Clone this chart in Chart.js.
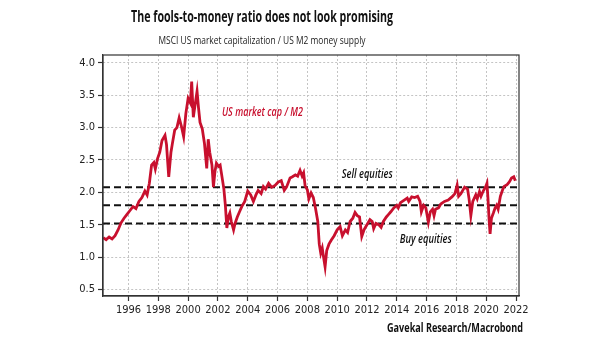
<!DOCTYPE html>
<html>
<head>
<meta charset="utf-8">
<script src="https://cdn.jsdelivr.net/npm/chart.js@4.4.1/dist/chart.umd.min.js"></script>
<style>
  body { margin: 0; background: #fff; }
</style>
</head>
<body>
<canvas id="grafico" width="605" height="341"></canvas>
<script>
// Valores (año decimal, ratio)
var anios = [
  1994.3, 1994.5, 1994.7, 1994.9, 1995.1, 1995.3, 1995.5, 1995.7, 1995.9, 1996.1,
  1996.3, 1996.5, 1996.7, 1996.9, 1997.1, 1997.25, 1997.4, 1997.55, 1997.7, 1997.8,
  1997.95, 1998.1, 1998.25, 1998.45, 1998.55, 1998.7, 1998.85, 1998.95, 1999.1, 1999.25,
  1999.4, 1999.55, 1999.7, 1999.85, 2000.0, 2000.15, 2000.24, 2000.35, 2000.5, 2000.6,
  2000.7, 2000.8, 2000.95, 2001.1, 2001.25, 2001.35, 2001.45, 2001.6, 2001.7, 2001.8,
  2001.9, 2002.05, 2002.15, 2002.3, 2002.4, 2002.5, 2002.6, 2002.7, 2002.8, 2002.9,
  2003.05, 2003.15, 2003.3, 2003.45, 2003.6, 2003.8, 2004.0, 2004.2, 2004.38, 2004.55,
  2004.7, 2004.9, 2005.05, 2005.2, 2005.4, 2005.6, 2005.8, 2006.05, 2006.25, 2006.45,
  2006.6, 2006.84, 2007.0, 2007.2, 2007.35, 2007.51, 2007.65, 2007.75, 2007.85, 2008.0,
  2008.1, 2008.25, 2008.4, 2008.55, 2008.7, 2008.8, 2008.9, 2009.0, 2009.1, 2009.19,
  2009.3, 2009.45, 2009.6, 2009.8, 2010.0, 2010.2, 2010.35, 2010.55, 2010.7, 2010.87,
  2011.05, 2011.2, 2011.35, 2011.5, 2011.65, 2011.8, 2011.95, 2012.2, 2012.35, 2012.45,
  2012.6, 2012.8, 2012.95, 2013.1, 2013.3, 2013.45, 2013.6, 2013.8, 2014.0, 2014.1,
  2014.25, 2014.5, 2014.7, 2014.8, 2015.0, 2015.2, 2015.4, 2015.56, 2015.65, 2015.8,
  2015.95, 2016.12, 2016.25, 2016.4, 2016.5, 2016.6, 2016.8, 2016.95, 2017.2, 2017.45,
  2017.7, 2017.9, 2018.05, 2018.15, 2018.3, 2018.55, 2018.75, 2018.85, 2018.97, 2019.1,
  2019.3, 2019.4, 2019.55, 2019.65, 2019.8, 2019.95, 2020.05, 2020.12, 2020.2, 2020.26,
  2020.35, 2020.48, 2020.6, 2020.7, 2020.8, 2020.95, 2021.1, 2021.2, 2021.4, 2021.55,
  2021.7, 2021.85, 2021.95
];
var ratio = [
  1.30, 1.27, 1.31, 1.28, 1.33, 1.42, 1.53, 1.60, 1.66, 1.72,
  1.78, 1.75, 1.86, 1.92, 2.02, 1.96, 2.14, 2.42, 2.46, 2.36,
  2.52, 2.62, 2.80, 2.88, 2.74, 2.24, 2.62, 2.76, 2.96, 3.00,
  3.15, 3.02, 2.86, 3.22, 3.45, 3.38, 3.71, 3.16, 3.40, 3.56,
  3.30, 3.08, 2.98, 2.75, 2.37, 2.82, 2.62, 2.42, 2.08, 2.32,
  2.45, 2.40, 2.42, 2.20, 2.05, 1.80, 1.45, 1.62, 1.68, 1.55,
  1.42, 1.52, 1.62, 1.70, 1.78, 1.86, 2.02, 1.96, 1.86, 1.96,
  2.03, 1.98, 2.09, 2.05, 2.14, 2.08, 2.10, 2.16, 2.18, 2.03,
  2.08, 2.22, 2.24, 2.27, 2.25, 2.34, 2.25, 2.30, 2.10, 2.04,
  1.90, 1.99, 1.92, 1.75, 1.55, 1.20, 1.06, 1.14, 0.98, 0.85,
  1.10, 1.20, 1.26, 1.33, 1.42, 1.47, 1.33, 1.42, 1.38, 1.55,
  1.60, 1.69, 1.64, 1.62, 1.32, 1.42, 1.48, 1.58, 1.55, 1.44,
  1.52, 1.50, 1.46, 1.55, 1.62, 1.66, 1.70, 1.76, 1.80, 1.76,
  1.84, 1.88, 1.91, 1.86, 1.93, 1.92, 1.94, 1.86, 1.70, 1.80,
  1.76, 1.54, 1.70, 1.74, 1.64, 1.74, 1.76, 1.82, 1.86, 1.88,
  1.93, 1.98, 2.11, 1.94, 1.98, 2.08, 2.05, 1.90, 1.64, 1.86,
  1.96, 1.90, 2.01, 1.94, 2.02, 2.08, 2.14, 1.90, 1.55, 1.36,
  1.60, 1.68, 1.76, 1.80, 1.74, 1.94, 2.04, 2.09, 2.12, 2.16,
  2.22, 2.24, 2.18
];
// Líneas de referencia: vender, media, comprar
var umbrales = [2.08, 1.80, 1.52];
var ticksX = [1996, 1998, 2000, 2002, 2004, 2006, 2008, 2010, 2012, 2014, 2016, 2018, 2020, 2022];
var ticksY = [0.5, 1.0, 1.5, 2.0, 2.5, 3.0, 3.5, 4.0];

var titulo = 'The fools-to-money ratio does not look promising';
var subtitulo = 'MSCI US market capitalization / US M2 money supply';
var fuente = 'Gavekal Research/Macrobond';

var X_MIN = 1994.29, X_MAX = 2022.2;
var ROJO = '#c8102e';

// Dibuja texto comprimido horizontalmente para que quepa en un ancho
function textoAjustado(ctx, texto, x, y, ancho, align) {
    var w = ctx.measureText(texto).width;
    var k = Math.min(1, ancho / w);
    ctx.save();
    ctx.translate(x, y);
    ctx.scale(k, 1);
    ctx.textAlign = align;
    ctx.textBaseline = 'middle';
    ctx.fillText(texto, 0, 0);
    ctx.restore();
}

var textos = {
    id: 'textos',
    afterDraw: function (chart) {
        var ctx = chart.ctx;
        var a = chart.chartArea;
        var sx = chart.scales.x, sy = chart.scales.y;

        // marco del área
        ctx.save();
        ctx.strokeStyle = '#333';
        ctx.lineWidth = 1.2;
        ctx.strokeRect(a.left, a.top, a.right - a.left, a.bottom - a.top);

        ctx.fillStyle = '#111';
        ctx.font = 'bold 16px "Open Sans"';
        textoAjustado(ctx, titulo, 262, 17, 262, 'center');
        ctx.font = '11.5px "Open Sans"';
        ctx.fillStyle = '#222';
        textoAjustado(ctx, subtitulo, 262, 41, 207, 'center');
        ctx.font = 'bold 13px "Open Sans"';
        ctx.fillStyle = '#111';
        textoAjustado(ctx, fuente, 523, 328, 136, 'right');

        // etiquetas dentro del gráfico
        ctx.font = 'italic 600 12.5px "Open Sans"';
        ctx.fillStyle = ROJO;
        textoAjustado(ctx, 'US market cap / M2', sx.getPixelForValue(2002.27), sy.getPixelForValue(3.24), 81, 'left');
        ctx.fillStyle = '#111';
        textoAjustado(ctx, 'Sell equities', sx.getPixelForValue(2010.3), sy.getPixelForValue(2.27), 51, 'left');
        textoAjustado(ctx, 'Buy equities', sx.getPixelForValue(2014.2), sy.getPixelForValue(1.28), 52, 'left');
        ctx.restore();
    }
};

var serie = anios.map(function (a, i) { return { x: a, y: ratio[i] }; });

var lineasRef = umbrales.map(function (v) {
    return {
        data: [{ x: X_MIN, y: v }, { x: X_MAX, y: v }],
        borderColor: '#111',
        borderWidth: 2,
        borderDash: [7, 4],
        pointRadius: 0,
        order: 2
    };
});

var ctx = document.getElementById('grafico').getContext('2d');
var graficoChart = new Chart(ctx, {
    type: 'line',
    data: {
        datasets: [{
            label: 'US market cap / M2',
            data: serie,
            borderColor: ROJO,
            borderWidth: 2.8,
            pointRadius: 0,
            tension: 0,
            order: 1
        }].concat(lineasRef)
    },
    options: {
        responsive: false,
        animation: false,
        layout: { padding: { left: 0, right: 86, top: 55, bottom: 0 } },
        plugins: {
            legend: { display: false },
            tooltip: { enabled: false }
        },
        scales: {
            x: {
                type: 'linear',
                min: X_MIN,
                max: X_MAX,
                afterBuildTicks: function (s) { s.ticks = ticksX.map(function (v) { return { value: v }; }); },
                afterFit: function (s) { s.height = 45; },
                grid: { color: '#c4c4c4', lineWidth: 1, tickColor: '#333', tickLength: 5, tickWidth: 1.2 },
                border: { color: '#333', width: 1.2, dash: [2, 2] },
                ticks: {
                    color: '#222',
                    font: { family: 'DejaVu Sans Condensed, Open Sans', size: 11 },
                    maxRotation: 0,
                    padding: 3,
                    callback: function (v) { return String(v); }
                }
            },
            y: {
                min: 0.4,
                max: 4.12,
                afterBuildTicks: function (s) { s.ticks = ticksY.map(function (v) { return { value: v }; }); },
                afterFit: function (s) { s.width = 103; },
                grid: { color: '#c4c4c4', lineWidth: 1, tickColor: '#333', tickLength: 5, tickWidth: 1.2 },
                border: { color: '#333', width: 1.2, dash: [2, 2] },
                ticks: {
                    color: '#222',
                    font: { family: 'DejaVu Sans Condensed, Open Sans', size: 11 },
                    padding: 3,
                    callback: function (v) { return v.toFixed(1); }
                }
            }
        }
    },
    plugins: [textos]
});
</script>
</body>
</html>
